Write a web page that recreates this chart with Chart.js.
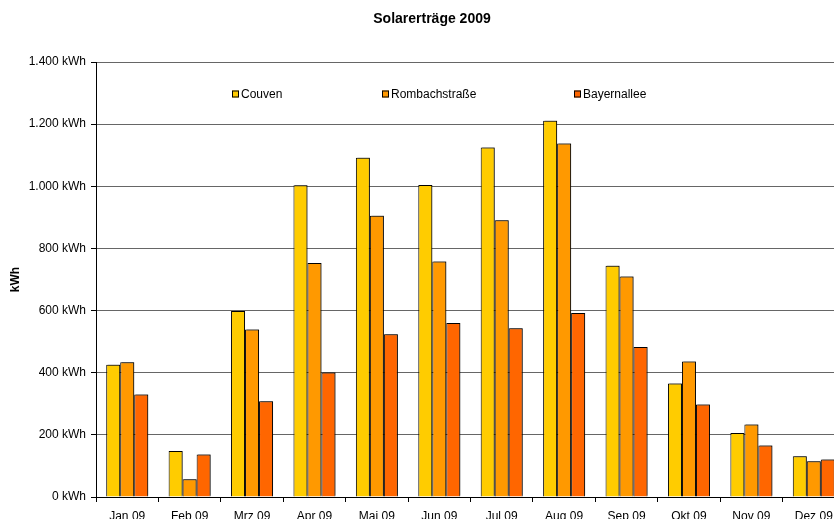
<!DOCTYPE html>
<html>
<head>
<meta charset="utf-8">
<script src="https://cdn.jsdelivr.net/npm/chart.js@4/dist/chart.umd.min.js"></script>
<style>
  html, body { margin: 0; padding: 0; background: #fff; overflow: hidden; }
  #wrap { position: absolute; left: 0; top: 0; width: 864px; height: 530px; }
</style>
</head>
<body>
<div id="wrap"><canvas id="chart" width="864" height="530"></canvas></div>
<script>
// Monthly yields 2009
const months = ['Jan 09', 'Feb 09', 'Mrz 09', 'Apr 09', 'Mai 09', 'Jun 09',
                'Jul 09', 'Aug 09', 'Sep 09', 'Okt 09', 'Nov 09', 'Dez 09'];
const couven = [426, 148, 599, 1003, 1092, 1004, 1125, 1211, 744, 365, 206, 131];
const rombach = [434, 57, 539, 753, 905, 758, 891, 1138, 710, 436, 233, 115];
const bayern = [330, 137, 308, 401, 524, 560, 543, 592, 483, 298, 166, 121];
const yTicks = [0, 200, 400, 600, 800, 1000, 1200, 1400];

const FONT = 'Arial, "Liberation Sans", sans-serif';

function fmtKwh(v) {
    // German thousands separator
    const s = String(v).replace(/\B(?=(\d{3})+(?!\d))/g, '.');
    return s + ' kWh';
}

// Legend sits inside the plot area, items spread out like the Excel original
const insideLegend = {
    id: 'insideLegend',
    afterDraw(chart) {
        const ctx = chart.ctx;
        const area = chart.chartArea;
        const offsets = [136, 286, 478];
        const y = area.top + 32;
        ctx.save();
        ctx.font = '12px ' + FONT;
        ctx.textBaseline = 'middle';
        chart.data.datasets.forEach((ds, i) => {
            const x = area.left + offsets[i];
            ctx.fillStyle = ds.backgroundColor;
            ctx.fillRect(x, y - 3.5, 7, 7);
            ctx.strokeStyle = '#000';
            ctx.lineWidth = 1;
            ctx.strokeRect(x + 0.5, y - 3, 6, 6);
            ctx.fillStyle = '#000';
            ctx.fillText(ds.label, x + 9, y + 0.5);
        });
        ctx.restore();
    }
};

// light drop shadow on the bars, as in the Excel chart
const barShadow = {
    id: 'barShadow',
    beforeDatasetsDraw(chart) {
        const ctx = chart.ctx;
        ctx.save();
        ctx.shadowColor = 'rgba(0,0,0,0.45)';
        ctx.shadowOffsetX = 1.5;
        ctx.shadowOffsetY = -1;
        ctx.shadowBlur = 0;
    },
    afterDatasetsDraw(chart) {
        chart.ctx.restore();
    }
};

const makeSet = (label, data, color) => ({
    label,
    data,
    backgroundColor: color,
    borderColor: '#000',
    borderWidth: 1,
    borderSkipped: 'bottom',
    barPercentage: 1,
    categoryPercentage: 0.673,
});

new Chart(document.getElementById('chart'), {
    type: 'bar',
    data: {
        labels: months,
        datasets: [
            makeSet('Couven', couven, '#FFCC00'),
            makeSet('Rombachstraße', rombach, '#FF9900'),
            makeSet('Bayernallee', bayern, '#FF6600'),
        ]
    },
    plugins: [barShadow, insideLegend],
    options: {
        responsive: false,
        animation: false,
        events: [],
        layout: { padding: 0 },
        plugins: {
            legend: { display: false },
            tooltip: { enabled: false },
            title: {
                display: true,
                text: 'Solarerträge 2009',
                color: '#000',
                font: { family: FONT, size: 14, weight: 'bold', lineHeight: 1.2 },
                padding: { top: 11, bottom: 34.2 }
            }
        },
        scales: {
            x: {
                offset: true,
                afterFit(scale) { scale.height = 33; },
                grid: {
                    offset: true,
                    drawOnChartArea: false,
                    drawTicks: true,
                    tickLength: 5,
                    color: '#000'
                },
                border: { color: '#000', width: 1 },
                ticks: {
                    color: '#000',
                    padding: 7,
                    maxRotation: 0,
                    autoSkip: false,
                    font: { family: FONT, size: 12 }
                }
            },
            y: {
                min: 0,
                max: 1400,
                afterFit(scale) { scale.width = 96; },
                afterBuildTicks(scale) {
                    scale.ticks = yTicks.map(v => ({ value: v }));
                },
                grid: {
                    color: '#666',
                    lineWidth: 1,
                    tickLength: 5,
                    tickColor: '#000'
                },
                border: { color: '#000', width: 1 },
                ticks: {
                    color: '#000',
                    padding: 5,
                    font: { family: FONT, size: 12 },
                    callback: v => fmtKwh(v)
                },
                title: {
                    display: true,
                    text: 'kWh',
                    color: '#000',
                    font: { family: FONT, size: 12, weight: 'bold' },
                    padding: { top: 8, bottom: 0 }
                }
            },
            // empty strip on the right so the plot ends where the original does
            yRight: {
                position: 'right',
                min: 0,
                max: 1400,
                afterFit(scale) { scale.width = 19; },
                grid: { display: false, drawTicks: false },
                border: { display: false },
                ticks: { display: false }
            }
        }
    }
});
</script>
</body>
</html>
